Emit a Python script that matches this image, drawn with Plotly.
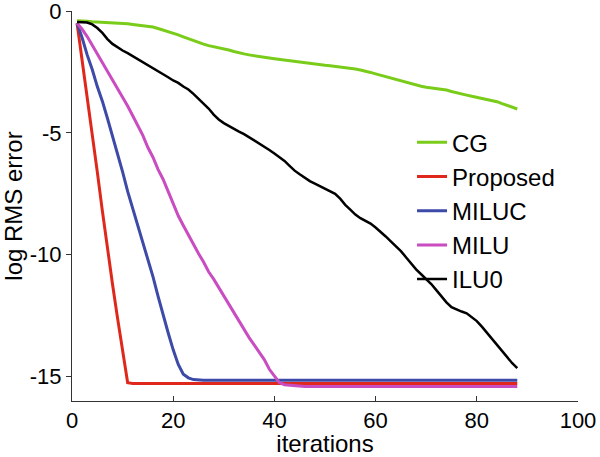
import plotly.graph_objects as go

iterations = list(range(1, 89))

cg = [-0.40, -0.40, -0.42, -0.44, -0.45, -0.46, -0.47, -0.48, -0.49, -0.50,
      -0.52, -0.55, -0.58, -0.60, -0.62, -0.66, -0.72, -0.78, -0.85, -0.90,
      -0.98, -1.06, -1.14, -1.22, -1.30, -1.36, -1.42, -1.46, -1.50, -1.55,
      -1.60, -1.66, -1.72, -1.76, -1.80, -1.84, -1.87, -1.90, -1.93, -1.96,
      -1.99, -2.02, -2.05, -2.08, -2.10, -2.12, -2.15, -2.17, -2.20, -2.23,
      -2.25, -2.27, -2.30, -2.32, -2.35, -2.38, -2.42, -2.46, -2.52, -2.58,
      -2.64, -2.70, -2.76, -2.82, -2.88, -2.94, -2.99, -3.04, -3.09, -3.13,
      -3.15, -3.17, -3.19, -3.24, -3.30, -3.36, -3.41, -3.45, -3.50, -3.54,
      -3.58, -3.62, -3.66, -3.72, -3.80, -3.88, -3.96, -4.02]

proposed = [-0.50, -2.00, -3.40, -5.00, -6.60, -8.20, -9.80, -11.20, -12.60, -14.00,
            -15.25] + [-15.28] * 77

miluc = [-0.50, -1.10, -1.80, -2.40, -3.10, -3.70, -4.40, -5.10, -5.90, -6.60,
         -7.40, -8.10, -8.80, -9.50, -10.10, -10.90, -11.70, -12.50, -13.20, -13.90,
         -14.50, -14.90, -15.05, -15.12] + [-15.15] * 64

milu = [-0.50, -0.75, -1.05, -1.40, -1.75, -2.10, -2.50, -2.85, -3.20, -3.55,
        -3.90, -4.30, -4.70, -5.10, -5.60, -6.00, -6.50, -6.90, -7.40, -7.90,
        -8.40, -8.80, -9.20, -9.60, -9.95, -10.30, -10.70, -11.00, -11.35, -11.70,
        -12.05, -12.40, -12.70, -13.05, -13.40, -13.70, -14.00, -14.30, -14.70, -15.00,
        -15.25, -15.33, -15.35, -15.35] + [-15.40] * 44

ilu0 = [-0.45, -0.45, -0.47, -0.55, -0.70, -0.90, -1.15, -1.35, -1.50, -1.62,
        -1.73, -1.85, -2.00, -2.12, -2.22, -2.35, -2.47, -2.60, -2.72, -2.85,
        -2.95, -3.10, -3.22, -3.40, -3.60, -3.80, -4.00, -4.25, -4.45, -4.60,
        -4.72, -4.85, -4.95, -5.05, -5.18, -5.30, -5.42, -5.55, -5.70, -5.85,
        -6.00, -6.15, -6.35, -6.55, -6.70, -6.85, -6.98, -7.08, -7.18, -7.28,
        -7.38, -7.50, -7.70, -7.95, -8.15, -8.35, -8.50, -8.60, -8.72, -8.88,
        -9.05, -9.25, -9.45, -9.65, -9.85, -10.10, -10.35, -10.60, -10.80, -11.00,
        -11.20, -11.45, -11.70, -11.95, -12.15, -12.25, -12.33, -12.40, -12.55, -12.72,
        -12.95, -13.20, -13.45, -13.70, -13.95, -14.20, -14.45, -14.65]

series_names = ["CG", "Proposed", "MILUC", "MILU", "ILU0"]
series_values = [cg, proposed, miluc, milu, ilu0]
series_colors = ["#7acc1a", "#e0271b", "#3d4aa8", "#c94cc0", "#000000"]
series_widths = [3, 3, 3, 3, 2.5]

x_ticks = [0, 20, 40, 60, 80, 100]
x_tick_labels = ["0", "20", "40", "60", "80", "100"]
y_ticks = [0, -5, -10, -15]
y_tick_labels = ["0", "-5", "-10", "-15"]

fig = go.Figure()
for name, vals, color, w in zip(series_names, series_values, series_colors, series_widths):
    fig.add_trace(go.Scatter(x=iterations, y=vals, mode="lines", name=name,
                             line=dict(color=color, width=w)))

family = "Liberation Sans, Arial, sans-serif"
tick_font = dict(family=family, size=22, color="#000000")
title_font = dict(family=family, size=24, color="#000000")

fig.update_layout(
    width=600, height=457,
    margin=dict(l=72, r=22, t=11, b=56),
    paper_bgcolor="white", plot_bgcolor="white",
    font=tick_font,
    showlegend=True,
    legend=dict(x=0.672, y=0.72, xanchor="left", yanchor="top",
                bgcolor="rgba(0,0,0,0)", borderwidth=0,
                font=dict(family=family, size=24, color="#000000"),
                tracegroupgap=0),
    xaxis=dict(range=[0, 100], tickvals=x_ticks, ticktext=x_tick_labels,
               ticks="inside", ticklen=5,
               tickcolor="#333333", showline=True, linecolor="#333333", linewidth=1,
               showgrid=False, zeroline=False, mirror=False, automargin=False,
               title=dict(text="iterations", standoff=0, font=title_font),
               tickfont=tick_font),
    yaxis=dict(range=[-16, 0], tickvals=y_ticks, ticktext=y_tick_labels,
               ticks="outside", ticklen=5, ticklabeloverflow="allow",
               tickcolor="#333333", showline=True, linecolor="#333333", linewidth=1,
               showgrid=False, zeroline=False, mirror=False, automargin=False,
               title=dict(text="log RMS error", standoff=0, font=title_font),
               tickfont=tick_font),
)

fig.write_html("out.html",
               config={"displayModeBar": False},
               post_script="document.body.style.margin='0';document.body.style.overflow='hidden';")
